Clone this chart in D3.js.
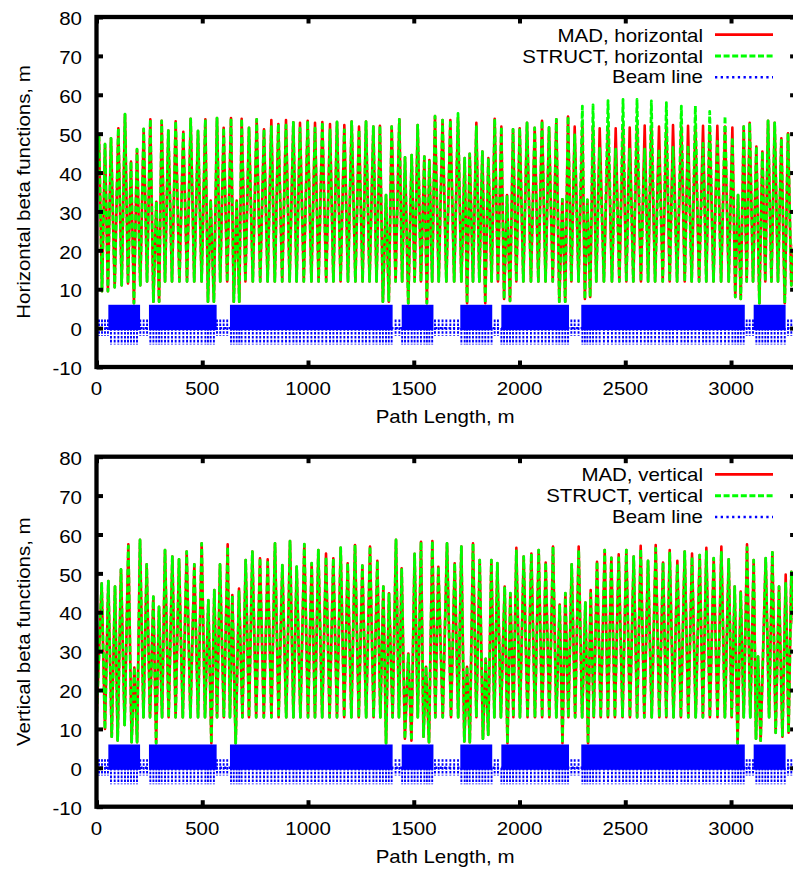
<!DOCTYPE html>
<html><head><meta charset="utf-8">
<script src="https://cdn.jsdelivr.net/npm/d3@7"></script>
<style>
body{margin:0;background:#fff}
svg{display:block}
text{font-family:"Liberation Sans",Arial,Helvetica,sans-serif;font-size:18.6px;fill:#000}
</style>
</head><body>
<svg id="c" width="793" height="873"></svg>
<script>
// ---------------- data ----------------
const xTicks = [0, 500, 1000, 1500, 2000, 2500, 3000];
const yTicks = [-10, 0, 10, 20, 30, 40, 50, 60, 70, 80];
const xTitle = "Path Length, m";
const yTitles = ["Horizontal beta functions, m", "Vertical beta functions, m"];
const legendTop = ["MAD, horizontal", "STRUCT, horizontal", "Beam line"];
const legendBottom = ["MAD, vertical", "STRUCT, vertical", "Beam line"];

// Horizontal beta: path length (m) of successive maxima / minima, and values (m)
const hS = [
  0, 11.8, 26, 40.2, 54, 68.5, 86, 103.2, 119, 134.7,
  149, 163.1, 177, 191.5, 207, 223, 239, 254.5, 269, 282.9,
  296, 308.1, 324, 339.6, 357, 374.3, 392, 410.5, 428, 445.2,
  462, 479.9, 497, 514.6, 527, 539.8, 555, 569.7, 585, 601.2,
  618, 635.9, 649, 662.7, 675, 686.3, 704, 721, 739, 757.3,
  774, 791.9, 809, 826.6, 843, 859.7, 878, 895.9, 913, 930.6,
  946, 962.1, 980, 998.4, 1016, 1033.1, 1050, 1067.7, 1086, 1104,
  1120, 1137.1, 1154, 1171.7, 1189, 1206.4, 1224, 1241.1, 1258, 1274.2,
  1291, 1308.9, 1324, 1340, 1354, 1368.8, 1382, 1395.5, 1414, 1431.8,
  1445, 1458.6, 1474, 1490.1, 1504, 1518.5, 1534, 1550, 1562, 1573.7,
  1587, 1600.4, 1618, 1636, 1654, 1673, 1691, 1709.2, 1725, 1740.7,
  1752, 1764.4, 1780, 1795.9, 1810, 1824.3, 1838, 1852.6, 1868, 1882.6,
  1898, 1914.1, 1927, 1940.9, 1955, 1969.3, 1985, 2000.8, 2018, 2035.5,
  2054, 2071.7, 2089, 2106.4, 2123, 2139.5, 2157, 2174.1, 2188, 2202.5,
  2216, 2229.3, 2245, 2260.8, 2279, 2297.1, 2309, 2320.7, 2334, 2347.5,
  2363, 2379, 2399, 2418.4, 2437, 2454.7, 2472, 2489.3, 2505, 2520.9,
  2538, 2555.5, 2574, 2591.8, 2608, 2623.3, 2641, 2659.5, 2677, 2694.2,
  2710, 2725.7, 2745, 2765.1, 2781, 2796.7, 2814, 2831.3, 2849, 2867.6,
  2883, 2899.1, 2917, 2935.3, 2953, 2971.6, 2989, 3006.3, 3020, 3033.1,
  3046, 3059.9, 3074, 3088.2, 3104, 3119.7, 3134, 3148.1, 3162, 3175,
  3191, 3206.4, 3222, 3237.9, 3254, 3269.4, 3285, 3310
];
const hMad = [
  40, 49.2, 9.5, 47.3, 9.5, 48.8, 10.5, 51.4, 11, 55.0,
  11.5, 42.8, 6.4, 46.0, 11, 51.2, 12, 53.7, 6.8, 32.5,
  6.8, 53.3, 12, 50.8, 12, 53.2, 12, 50.5, 12, 53.8,
  12, 50.7, 12, 53.7, 6.8, 32.8, 6.8, 54.0, 12, 51.5,
  12, 54.0, 6.8, 32.8, 6.8, 53.8, 12, 51.5, 12, 53.7,
  12, 51.1, 12, 53.5, 12, 52.5, 12, 53.5, 12, 52.9,
  12, 52.8, 12, 53.3, 12, 52.8, 12, 53.0, 12, 52.5,
  12, 53.0, 12, 52.2, 12, 53.1, 12, 51.8, 12, 53.1,
  12, 51.8, 12, 52.0, 6.8, 34.2, 6.8, 51.8, 12, 53.7,
  12, 43.9, 6.4, 44.5, 12, 52.2, 12, 44.1, 6.4, 43.2,
  12, 54.5, 12, 53.5, 12, 53.5, 12, 54.0, 12, 43.7,
  6.4, 44.8, 12, 52.8, 12, 45.4, 6.4, 43.7, 12, 53.8,
  12, 51.8, 7.5, 34.2, 7.0, 51.1, 12, 51.4, 12, 52.8,
  12, 51.5, 12, 53.3, 12, 51.6, 12, 53.7, 6.8, 33.1,
  6.8, 54.4, 12, 51.8, 12, 52.0, 7.5, 33.0, 8.0, 52.0,
  12, 51.4, 12, 51.8, 12, 51.4, 12, 51.8, 12, 51.6,
  12, 51.8, 12, 52.1, 12, 51.8, 12, 51.8, 12, 51.8,
  12, 52.2, 12, 51.8, 12, 52.0, 12, 51.8, 12, 52.0,
  12, 51.8, 12, 52.0, 12, 51.8, 12, 51.6, 8.0, 34.2,
  7.5, 51.8, 12, 52.8, 12, 46.7, 6.4, 45.4, 12, 53.3,
  12, 52.8, 12, 48.8, 6.4, 50.1, 11, 30
];
const hStruct = [
  40, 49.2, 9.5, 47.3, 9.5, 48.8, 10.5, 51.4, 11, 55.0,
  11.5, 42.8, 6.4, 46.0, 11, 51.2, 12, 53.7, 6.8, 32.5,
  6.8, 53.3, 12, 50.8, 12, 53.2, 12, 50.5, 12, 53.8,
  12, 50.7, 12, 53.7, 6.8, 32.8, 6.8, 54.0, 12, 51.5,
  12, 54.0, 6.8, 32.8, 6.8, 53.8, 12, 51.5, 12, 53.7,
  12, 51.1, 12, 51.8, 12, 52.5, 12, 52.2, 12, 52.9,
  12, 51.4, 12, 53.3, 12, 51.4, 12, 53.0, 12, 51.0,
  12, 53.0, 12, 51.0, 12, 53.1, 12, 51.0, 12, 53.1,
  12, 51.8, 12, 52.0, 6.8, 34.2, 6.8, 51.8, 12, 53.7,
  12, 43.9, 6.4, 44.5, 12, 52.2, 12, 44.1, 6.4, 43.2,
  12, 54.5, 12, 53.5, 12, 53.5, 12, 55.2, 12, 43.7,
  6.4, 44.8, 12, 51.8, 12, 45.4, 6.4, 43.7, 12, 53.8,
  12, 51.8, 7.5, 34.2, 7.0, 51.1, 12, 51.4, 12, 52.8,
  12, 51.5, 12, 53.3, 12, 51.6, 12, 53.7, 6.8, 33.1,
  6.8, 54.4, 12, 49.7, 12, 57.1, 7.5, 33.0, 8.0, 57.4,
  12, 46.2, 12, 58.5, 12, 46.0, 12, 58.8, 12, 46.0,
  12, 58.8, 12, 46.0, 12, 58.4, 12, 46.0, 12, 58.0,
  12, 46.5, 12, 57.1, 12, 47.0, 12, 57.1, 12, 47.5,
  12, 55.7, 12, 48.0, 12, 54.5, 12, 49.0, 8.0, 34.2,
  7.5, 51.8, 12, 52.8, 12, 46.7, 6.4, 45.4, 12, 53.3,
  12, 52.8, 12, 48.8, 6.4, 50.1, 11, 30
];

// Vertical beta: path length (m) of successive maxima / minima, and values (m)
const vS = [
  0, 24.4, 40, 55.9, 72, 87.5, 100, 115.8, 133, 150.5,
  166, 178.9, 192, 205.7, 222, 237.2, 253, 268.7, 282, 295.5,
  310, 323.9, 341, 358.5, 374, 390.1, 408, 426.3, 444, 462.5,
  480, 497.2, 513, 528.7, 543, 557.1, 570, 583.9, 602, 620.1,
  631, 642.2, 658, 673.7, 690, 705.3, 721, 736.8, 755, 773,
  791, 809.3, 827, 843.9, 861, 878.6, 897, 914.9, 931, 946.4,
  964, 982.6, 1000, 1017.3, 1033, 1048.8, 1067, 1085.1, 1102, 1119.7,
  1137, 1154.4, 1171, 1187.5, 1205, 1222.2, 1240, 1256.9, 1275, 1293.1,
  1310, 1327.8, 1342, 1356.1, 1369, 1382.9, 1400, 1416, 1430, 1442.8,
  1458, 1474.3, 1489, 1504, 1519, 1534.2, 1546, 1557.8, 1572, 1587.8,
  1602, 1616.2, 1637, 1657.2, 1676, 1693.5, 1710, 1725, 1739, 1751.8,
  1765, 1780.1, 1796, 1811.7, 1827, 1840, 1852, 1866.8, 1881, 1895.2,
  1912, 1929.9, 1943, 1956.7, 1971, 1985, 2002, 2019.7, 2038, 2056,
  2073, 2090.6, 2107, 2123.7, 2141, 2158.4, 2174, 2189.9, 2203, 2216.7,
  2231, 2246.6, 2263, 2279.7, 2296, 2311.3, 2324, 2336.5, 2351, 2366.4,
  2384, 2402.7, 2418, 2434.2, 2451, 2468.9, 2487, 2505.1, 2522, 2539.8,
  2556, 2572.9, 2590, 2607.5, 2625, 2643.8, 2661, 2678.5, 2694, 2710,
  2728, 2746.2, 2763, 2780.9, 2798, 2815.6, 2833, 2851.8, 2867, 2883.3,
  2900, 2918, 2936, 2954.3, 2971, 2989, 3003, 3017.3, 3031, 3045.7,
  3060, 3075.6, 3091, 3107.1, 3118, 3127.6, 3140, 3163.9, 3180, 3195.4,
  3211, 3226.9, 3243, 3258.4, 3272, 3285.2, 3310
];
const vMad = [
  12, 47.4, 10, 48.0, 8, 46.6, 7, 51.0, 11, 57.5,
  6.6, 25.8, 6.6, 58.6, 13, 52.3, 13, 44.0, 6.3, 41.4,
  13, 56.0, 13, 54.3, 13, 53.6, 13, 55.6, 13, 52.3,
  13, 57.7, 13, 43.1, 6.3, 45.7, 13, 52.3, 13, 57.5,
  13, 44.4, 6.3, 46.1, 13, 53.4, 13, 55.6, 13, 53.9,
  13, 53.6, 13, 57.7, 13, 52.1, 13, 58.3, 13, 51.7,
  13, 57.5, 13, 52.6, 13, 56.0, 13, 55.1, 13, 53.9,
  13, 56.6, 13, 52.6, 13, 57.3, 13, 52.0, 13, 56.9,
  13, 53.2, 13, 46.6, 6.3, 44.9, 13, 58.6, 13, 51.3,
  7.5, 29.4, 7.0, 55.0, 13, 58.1, 8.0, 26.0, 6.6, 58.3,
  13, 51.7, 13, 57.7, 13, 52.6, 13, 56.9, 6.8, 26.0,
  6.6, 57.7, 13, 53.4, 7.5, 28.0, 8.5, 53.4, 13, 52.6,
  13, 46.6, 6.3, 44.9, 13, 56.6, 13, 54.3, 13, 55.1,
  13, 56.0, 13, 52.8, 13, 56.9, 13, 42.0, 6.3, 44.9,
  13, 52.3, 13, 56.9, 13, 42.5, 6.3, 45.7, 13, 53.0,
  13, 56.0, 13, 54.0, 13, 54.9, 13, 56.0, 13, 54.3,
  13, 57.1, 13, 53.2, 13, 57.3, 13, 52.8, 13, 56.0,
  13, 53.2, 13, 55.6, 13, 55.1, 13, 54.7, 13, 56.6,
  13, 53.9, 13, 56.9, 13, 53.6, 13, 46.6, 6.3, 45.3,
  13, 57.5, 13, 53.4, 7.5, 28.6, 7.0, 53.9, 13, 55.4,
  9, 46.6, 8, 49.7, 9, 50.4, 25
];
const vStruct = [
  12, 47.4, 10, 48.0, 8, 46.6, 7, 51.0, 11, 57.0,
  6.6, 25.8, 6.6, 58.6, 13, 52.3, 13, 44.0, 6.3, 41.4,
  13, 56.0, 13, 54.3, 13, 53.6, 13, 55.6, 13, 52.3,
  13, 57.7, 13, 43.1, 6.3, 45.7, 13, 52.3, 13, 56.8,
  13, 44.4, 6.3, 45.3, 13, 53.4, 13, 55.6, 13, 53.9,
  13, 52.8, 13, 57.7, 13, 52.1, 13, 58.3, 13, 51.7,
  13, 57.5, 13, 52.6, 13, 56.0, 13, 54.2, 13, 53.9,
  13, 56.6, 13, 52.6, 13, 57.3, 13, 52.0, 13, 56.9,
  13, 53.2, 13, 46.6, 6.3, 44.9, 13, 58.6, 13, 51.3,
  7.5, 29.4, 7.0, 55.0, 13, 58.1, 8.0, 26.0, 6.6, 58.3,
  13, 51.7, 13, 57.7, 13, 52.6, 13, 56.9, 6.8, 26.0,
  6.6, 57.7, 13, 53.4, 7.5, 28.0, 8.5, 53.4, 13, 52.6,
  13, 46.6, 6.3, 44.9, 13, 55.8, 13, 54.3, 13, 55.1,
  13, 56.0, 13, 52.8, 13, 56.9, 13, 42.0, 6.3, 44.9,
  13, 52.3, 13, 56.0, 13, 42.5, 6.3, 44.8, 13, 53.0,
  13, 56.0, 13, 54.0, 13, 54.0, 13, 56.0, 13, 54.3,
  13, 56.2, 13, 53.2, 13, 56.4, 13, 52.8, 13, 55.2,
  13, 52.4, 13, 55.6, 13, 54.2, 13, 54.7, 13, 55.6,
  13, 53.9, 13, 55.4, 13, 53.6, 13, 46.6, 6.3, 45.3,
  13, 56.6, 13, 53.4, 7.5, 28.6, 7.0, 53.9, 13, 55.4,
  9, 46.6, 8, 47.4, 9, 50.4, 25
];

// Beam line: arc sections (dipole blocks, m) drawn from 0 to dipoleHeight, quads down to quadDepth
const beamBlocks = [[56, 206], [248, 568], [631, 1400], [1443, 1593], [1720, 1871], [1914, 2234], [2292, 3065], [3107, 3258]];
const dipoleHeight = 6;
const quadDepth = -4.2;
const straightMark = [-2, 2.2];

// ---------------- drawing ----------------
const svg = d3.select("#c");
const x = d3.scaleLinear().domain([0, 3310]).range([96.5, 796.6]);
const RED = "#ff0000", GREEN = "#00ff00", BLUE = "#0000ff";

function label(g, tx, ty, txt, anchor, rot) {
  g.append("text")
    .attr("transform", `translate(${tx},${ty})` + (rot ? ` rotate(${rot})` : "") + " scale(1.1,1)")
    .attr("text-anchor", anchor)
    .text(txt);
}

const panels = [
  {top: 17, bottom: 367, s: hS, mad: hMad, st: hStruct, title: yTitles[0], legend: legendTop},
  {top: 456.7, bottom: 806.7, s: vS, mad: vMad, st: vStruct, title: yTitles[1], legend: legendBottom}
];
const quadS = hS.slice(1, -1);
const inBlock = s => beamBlocks.some(b => s >= b[0] && s <= b[1]);

panels.forEach((p, i) => {
  const y = d3.scaleLinear().domain([-10, 80]).range([p.bottom, p.top]);
  const g = svg.append("g");
  const cid = "clip" + i;
  svg.append("clipPath").attr("id", cid).append("rect")
    .attr("x", x(0)).attr("y", p.top).attr("width", x(3310) - x(0)).attr("height", p.bottom - p.top);
  const dg = g.append("g").attr("clip-path", `url(#${cid})`);

  const line = d3.line().x(d => x(d[0])).y(d => y(d[1]));
  dg.append("path").attr("d", line(p.s.map((s, k) => [s, p.mad[k]])))
    .attr("fill", "none").attr("stroke", RED).attr("stroke-width", 2.6).attr("stroke-linejoin", "round");
  dg.append("path").attr("d", line(p.s.map((s, k) => [s, p.st[k]])))
    .attr("fill", "none").attr("stroke", GREEN).attr("stroke-width", 2.8)
    .attr("stroke-dasharray", "6,2.6").attr("stroke-linejoin", "round");

  // beam line
  const bl = dg.append("g");
  bl.append("line").attr("x1", x(0)).attr("x2", x(3310)).attr("y1", y(0)).attr("y2", y(0))
    .attr("stroke", BLUE).attr("stroke-width", 2.4).attr("stroke-dasharray", "2.2,2.2");
  bl.selectAll("rect.blk").data(beamBlocks).join("rect").attr("class", "blk")
    .attr("x", d => x(d[0])).attr("width", d => x(d[1]) - x(d[0]))
    .attr("y", y(dipoleHeight)).attr("height", y(0) - y(dipoleHeight) + 2).attr("fill", BLUE);
  bl.selectAll("line.q").data(quadS).join("line").attr("class", "q")
    .attr("x1", d => x(d)).attr("x2", d => x(d))
    .attr("y1", d => inBlock(d) ? y(0) : y(straightMark[1]))
    .attr("y2", d => inBlock(d) ? y(quadDepth) : y(straightMark[0]))
    .attr("stroke", BLUE).attr("stroke-width", 1.9).attr("stroke-dasharray", "2.6,1.3");

  // border
  g.append("rect").attr("x", x(0)).attr("y", p.top).attr("width", x(3310) - x(0)).attr("height", p.bottom - p.top)
    .attr("fill", "none").attr("stroke", "#000").attr("stroke-width", 4.3);

  // ticks (inward, mirrored) via d3 axes
  const axB = g.append("g").attr("transform", `translate(0,${p.bottom})`)
    .call(d3.axisBottom(x).tickValues(xTicks).tickSize(-6.5).tickFormat(""));
  const axT = g.append("g").attr("transform", `translate(0,${p.top})`)
    .call(d3.axisTop(x).tickValues(xTicks).tickSize(-6.5).tickFormat(""));
  const axL = g.append("g").attr("transform", `translate(${x(0)},0)`)
    .call(d3.axisLeft(y).tickValues(yTicks).tickSize(-6.5).tickFormat(""));
  const axR = g.append("g").attr("transform", `translate(${x(3310)},0)`)
    .call(d3.axisRight(y).tickValues(yTicks).tickSize(-6.5).tickFormat(""));
  [axB, axT, axL, axR].forEach(a => {
    a.select(".domain").remove();
    a.selectAll(".tick line").attr("stroke", "#000").attr("stroke-width", 4);
  });

  // tick labels
  xTicks.forEach(t => label(g, x(t), p.bottom + 28, t, "middle"));
  yTicks.forEach(t => label(g, 82, y(t) + 8.2, t, "end"));

  // titles
  label(g, (x(0) + x(3310)) / 2 - 1.5, p.bottom + 56, xTitle, "middle");
  label(g, 30, (p.top + p.bottom) / 2, p.title, "middle", -90);

  // legend
  const colors = [RED, GREEN, BLUE];
  const dashes = [null, "6,2.6", "2.3,3.4"];
  const widths = [2.7, 2.9, 2.6];
  p.legend.forEach((txt, k) => {
    label(g, 703, p.top + 24.7 + k * 20.8, txt, "end");
    const ly = p.top + 17.7 + k * 21.3;
    const ln = g.append("line").attr("x1", 715).attr("x2", 773).attr("y1", ly).attr("y2", ly)
      .attr("stroke", colors[k]).attr("stroke-width", widths[k]);
    if (dashes[k]) ln.attr("stroke-dasharray", dashes[k]);
  });
});
</script>
</body></html>
